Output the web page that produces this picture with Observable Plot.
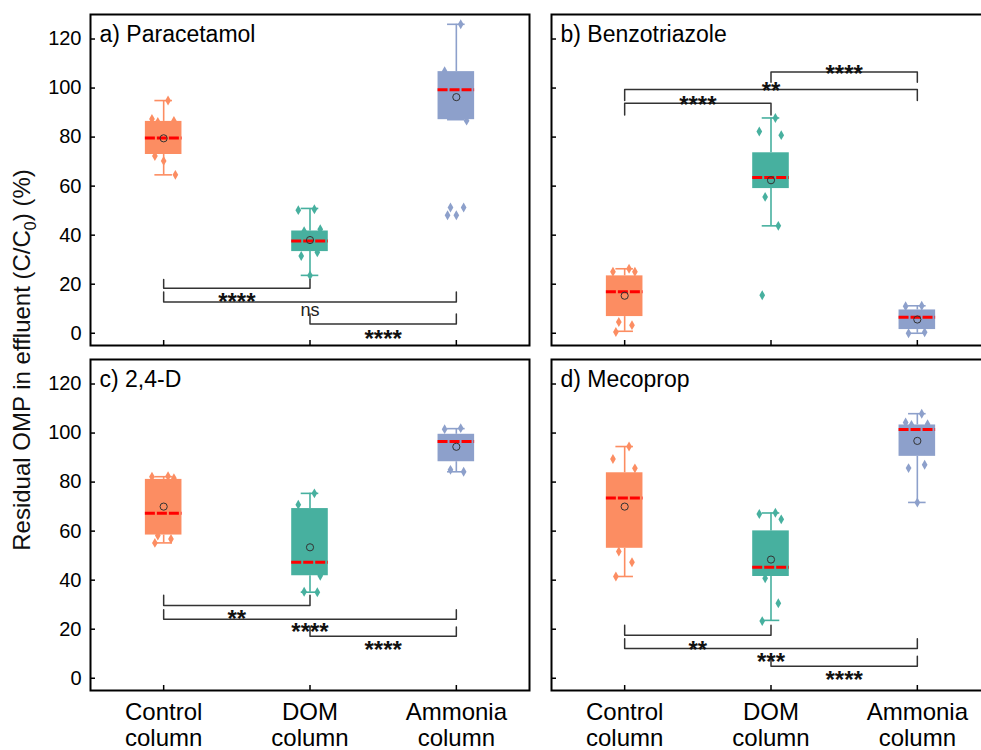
<!DOCTYPE html>
<html>
<head>
<meta charset="utf-8">
<script src="https://cdn.jsdelivr.net/npm/d3@7"></script>
<script src="https://cdn.jsdelivr.net/npm/@observablehq/plot@0.6"></script>
<style>
  html, body { margin: 0; padding: 0; background: #fff; }
  #fig { position: relative; width: 981px; height: 750px; overflow: hidden; background: #fff;
         font-family: "Liberation Sans", Arial, sans-serif; }
  .panel { position: absolute; }
  #ylab { position: absolute; left: 24px; top: 360px; transform: translate(-50%, -50%) rotate(-90deg);
          white-space: nowrap; font-size: 24px; color: #111; font-family: "Liberation Sans", Arial, sans-serif; }
  #ylab sub { font-size: 16px; }
</style>
</head>
<body>
<div id="fig">
  <div id="ylab">Residual OMP in effluent (C/C<sub>0</sub>) (%)</div>
</div>
<script>
// ---------------- data ----------------
const categories = ["Control column", "DOM column", "Ammonia column"];
const panelTitles = ["a) Paracetamol", "b) Benzotriazole", "c) 2,4-D", "d) Mecoprop"];
const boxColors = ["#fc8d62", "#47b09f", "#8da0cb"];
const yTickValues = [0, 20, 40, 60, 80, 100, 120];

// per panel (a, b, c, d) -> per column (Control, DOM, Ammonia)
const whiskerLow  = [[64.6, 23.6, 87.1], [0.8, 43.8, 0.0], [55.2, 35.1, 84.2], [41.5, 23.6, 71.7]];
const quartile1   = [[72.9, 33.3, 87.1], [6.8, 59.0, 1.5], [58.4, 41.8, 88.3], [53.0, 41.5, 90.5]];
const medians     = [[79.6, 37.6, 99.3], [16.9, 63.5, 6.5], [67.3, 47.3, 96.6], [73.5, 45.3, 101.4]];
const quartile3   = [[86.4, 41.7, 106.7], [23.4, 73.6, 9.5], [81.1, 69.2, 99.5], [83.8, 60.1, 103.3]];
const whiskerHigh = [[94.9, 50.9, 126.0], [26.3, 87.8, 11.2], [82.2, 75.4, 101.8], [94.5, 67.4, 107.9]];
const means       = [[79.5, 38.0, 96.3], [15.3, 62.4, 5.6], [70.0, 53.4, 94.4], [70.0, 48.4, 96.8]];

// individual replicate values
const pointsA = [[94.9, 87.4, 86.6, 86.2, 79.6, 72.3, 70.3, 64.6],
                 [50.6, 50.2, 42.4, 41.6, 33.0, 31.5, 23.6],
                 [126.0, 106.9, 86.7, 51.3, 51.3, 48.1, 48.1]];
const pointsB = [[26.3, 25.1, 25.1, 4.6, 3.3, 0.5],
                 [87.8, 82.3, 80.8, 55.6, 43.8, 15.5],
                 [11.2, 11.0, 6.5, 6.3, 0.4, 0.0]];
const pointsC = [[82.4, 82.2, 81.6, 58.2, 56.8, 55.2],
                 [75.4, 70.8, 41.8, 35.3, 35.1],
                 [102.0, 101.6, 97.1, 85.0, 84.2]];
const pointsD = [[94.5, 89.4, 85.6, 51.7, 47.3, 41.5],
                 [67.5, 67.0, 64.8, 40.8, 30.6, 23.3],
                 [107.9, 104.3, 103.6, 103.3, 87.1, 85.7, 71.7]];

// significance brackets: [from column, to column, bar level, leg end level, label, label level]
const bracketsA = [[0, 1, 18.3, 21.9, "****", 15.3], [0, 2, 12.7, 16.8, "ns", 9.4], [1, 2, 3.8, 7.8, "****", 0.5]];
const bracketsB = [[0, 1, 93.8, 89.0, "****", 95.8], [0, 2, 99.4, 94.9, "**", 101.4], [1, 2, 106.5, 102.4, "****", 108.5]];
const bracketsC = [[0, 1, 29.7, 33.8, "**", 27.0], [0, 2, 24.1, 27.9, "****", 21.4], [1, 2, 17.1, 20.9, "****", 14.1]];
const bracketsD = [[0, 1, 17.5, 21.6, "**", 14.4], [0, 2, 12.1, 16.1, "***", 9.4], [1, 2, 4.9, 9.0, "****", 2.2]];

// ---------------- drawing ----------------
const allPoints = [pointsA, pointsB, pointsC, pointsD];
const allBrackets = [bracketsA, bracketsB, bracketsC, bracketsD];
const jitter = [0.03, -0.08, 0.07, -0.04, 0.05, -0.06, 0.0, 0.08];
const boxHalf = 0.125, capHalf = 0.06;

const layout = [
  {left: 0,   top: 0,   width: 540, height: 352, mL: 90, mR: 11, mT: 14, mB: 7,  yLabels: true,  xLabels: false},
  {left: 540, top: 0,   width: 460, height: 352, mL: 11, mR: 10, mT: 14, mB: 7,  yLabels: false, xLabels: false},
  {left: 0,   top: 345, width: 540, height: 405, mL: 90, mR: 11, mT: 14, mB: 60, yLabels: true,  xLabels: true},
  {left: 540, top: 345, width: 460, height: 405, mL: 11, mR: 10, mT: 14, mB: 60, yLabels: false, xLabels: true}
];

const fig = document.getElementById("fig");

layout.forEach((L, p) => {
  const rows = categories.map((c, i) => ({
    i, c,
    lo: whiskerLow[p][i], q1: quartile1[p][i], med: medians[p][i],
    q3: quartile3[p][i], hi: whiskerHigh[p][i], mean: means[p][i],
    color: boxColors[i]
  }));
  const pts = allPoints[p].flatMap((arr, i) => arr.map((v, k) => ({x: i + jitter[k % jitter.length], v, color: boxColors[i]})));
  const br = allBrackets[p].map(([from, to, bar, leg, label, ly], id) => ({id, from, to, bar, leg, label, ly}));
  const brPath = br.flatMap(b => [
    {id: b.id, x: b.from, y: b.leg}, {id: b.id, x: b.from, y: b.bar},
    {id: b.id, x: b.to, y: b.bar}, {id: b.id, x: b.to, y: b.leg}
  ]);
  const starLabels = br.filter(b => b.label.startsWith("*"));
  const otherLabels = br.filter(b => !b.label.startsWith("*"));

  const marks = [
    // whiskers
    Plot.ruleX(rows, {x: "i", y1: "lo", y2: "q1", stroke: "color", strokeWidth: 1.6}),
    Plot.ruleX(rows, {x: "i", y1: "q3", y2: "hi", stroke: "color", strokeWidth: 1.6}),
    Plot.ruleY(rows, {y: "lo", x1: d => d.i - capHalf, x2: d => d.i + capHalf, stroke: "color", strokeWidth: 1.6}),
    Plot.ruleY(rows, {y: "hi", x1: d => d.i - capHalf, x2: d => d.i + capHalf, stroke: "color", strokeWidth: 1.6}),
    // replicates
    Plot.dot(pts, {x: "x", y: "v", symbol: "diamond", r: 3, fill: "color", stroke: "none"}),
    // boxes
    Plot.rectY(rows, {x1: d => d.i - boxHalf, x2: d => d.i + boxHalf, y1: "q1", y2: "q3", fill: "color"}),
    // medians
    Plot.ruleY(rows, {y: "med", x1: d => d.i - boxHalf, x2: d => d.i + boxHalf, stroke: "#ff0000", strokeWidth: 3, strokeDasharray: "10,2"}),
    // means
    Plot.dot(rows, {x: "i", y: "mean", r: 3.6, stroke: "#333", strokeWidth: 1, fill: "none"}),
    // significance brackets
    Plot.line(brPath, {x: "x", y: "y", z: "id", stroke: "#333", strokeWidth: 1.5}),
    Plot.text(starLabels, {x: d => (d.from + d.to) / 2, y: "ly", text: "label", fontSize: 24, fontWeight: "bold", fill: "#111", dy: 7}),
    Plot.text(otherLabels, {x: d => (d.from + d.to) / 2, y: "ly", text: "label", fontSize: 18, fill: "#222"}),
    // panel title
    Plot.text([panelTitles[p]], {frameAnchor: "top-left", dx: 9, dy: 11, lineAnchor: "top", textAnchor: "start", fontSize: 23, fill: "#000"}),
    // axes ticks (inward)
    Plot.axisY({ticks: yTickValues, tickSize: -5, fill: "none", stroke: "#000", strokeWidth: 1.5, label: null}),
    Plot.axisX({ticks: [0, 1, 2], tickSize: -5, fill: "none", stroke: "#000", strokeWidth: 1.5, label: null}),
    Plot.frame({stroke: "#000", strokeWidth: 2})
  ];
  if (L.yLabels) {
    marks.push(Plot.axisY({ticks: yTickValues, tickSize: 0, tickPadding: 9, stroke: "none", fill: "#000", fontSize: 20, label: null}));
  }
  if (L.xLabels) {
    marks.push(Plot.axisX({ticks: [0, 1, 2], tickFormat: i => categories[i].replace(" ", "\n"), tickSize: 0, tickPadding: 10,
      stroke: "none", fill: "#000", fontSize: 24, lineHeight: 1.12, label: null}));
  }

  const chart = Plot.plot({
    width: L.width, height: L.height,
    marginLeft: L.mL, marginRight: L.mR, marginTop: L.mT, marginBottom: L.mB,
    x: {type: "linear", domain: [-0.5, 2.5], axis: null},
    y: {type: "linear", domain: [-5, 130], axis: null},
    style: {fontFamily: "'Liberation Sans', Arial, sans-serif", fontSize: "20px", color: "#000", background: "transparent", maxWidth: "none", overflow: "visible"},
    marks
  });
  const holder = document.createElement("div");
  holder.className = "panel";
  holder.style.left = L.left + "px";
  holder.style.top = L.top + "px";
  holder.style.width = L.width + "px";
  holder.style.height = L.height + "px";
  holder.appendChild(chart);
  fig.insertBefore(holder, document.getElementById("ylab"));
});
</script>
</body>
</html>
